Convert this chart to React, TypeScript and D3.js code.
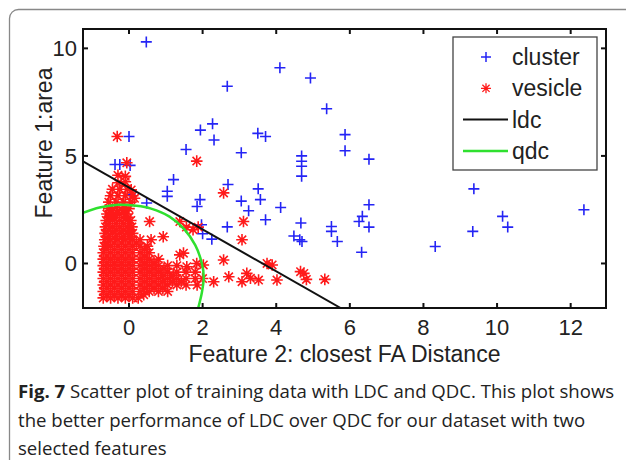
import React from 'react';
import * as d3 from 'd3';

// Feature 2 (closest FA distance) vs Feature 1 (area)
const clusterPoints: [number, number][] = [
  [0.47, 10.3], [2.67, 8.24], [4.1, 9.1], [4.93, 8.62], [5.37, 7.19],
  [0.0, 5.9], [1.94, 6.2], [2.27, 6.49], [2.31, 5.74], [3.5, 6.05], [3.71, 5.9],
  [5.87, 5.99], [5.87, 5.24], [6.52, 4.85], [1.55, 5.3], [3.05, 5.15],
  [4.69, 5.0], [4.69, 4.75], [4.69, 4.52], [4.69, 4.06],
  [-0.38, 4.6], [-0.25, 4.6], [0.03, 4.56], [1.21, 3.9], [2.69, 3.67], [3.51, 3.47],
  [1.04, 3.36], [1.04, 3.12], [3.57, 2.97], [3.05, 2.9], [3.25, 2.45], [4.12, 2.6],
  [1.93, 2.97], [1.85, 2.65], [3.71, 2.03], [2.67, 1.7], [4.67, 1.88], [4.48, 1.28],
  [4.64, 1.1], [1.97, 1.8], [2.0, 1.38], [2.25, 1.13],
  [9.37, 3.47], [12.36, 2.5], [10.15, 2.19], [10.29, 1.69], [9.34, 1.49], [8.32, 0.79],
  [6.52, 2.73], [6.34, 2.19], [6.25, 1.95], [6.52, 1.69], [5.5, 1.72], [5.5, 1.49],
  [5.66, 1.02], [6.32, 0.52], [4.7, 1.02], [0.03, 3.2], [0.48, 2.81],
];

const vesiclePoints: [number, number][] = [
  // dense core
  [-0.7, -1.6], [-0.5, -1.6], [-0.3, -1.6], [-0.1, -1.6], [0.1, -1.6],
  [-0.7, -1.3], [-0.5, -1.3], [-0.3, -1.3], [-0.1, -1.3], [0.1, -1.3],
  [-0.7, -1.0], [-0.5, -1.0], [-0.3, -1.0], [-0.1, -1.0], [0.1, -1.0],
  [-0.7, -0.7], [-0.5, -0.7], [-0.3, -0.7], [-0.1, -0.7], [0.1, -0.7],
  [-0.7, -0.4], [-0.5, -0.4], [-0.3, -0.4], [-0.1, -0.4], [0.1, -0.4],
  [-0.7, -0.1], [-0.5, -0.1], [-0.3, -0.1], [-0.1, -0.1], [0.1, -0.1],
  [-0.7, 0.2], [-0.5, 0.2], [-0.3, 0.2], [-0.1, 0.2], [0.1, 0.2],
  [-0.7, 0.5], [-0.5, 0.5], [-0.3, 0.5], [-0.1, 0.5], [0.1, 0.5],
  [-0.68, 0.8], [-0.5, 0.8], [-0.3, 0.8], [-0.1, 0.8], [0.1, 0.8],
  [-0.66, 1.1], [-0.5, 1.1], [-0.3, 1.1], [-0.1, 1.1], [0.1, 1.1],
  [-0.65, 1.4], [-0.45, 1.4], [-0.25, 1.4], [-0.05, 1.4], [0.1, 1.4],
  [-0.64, 1.7], [-0.45, 1.7], [-0.25, 1.7], [-0.05, 1.7], [0.08, 1.7],
  [-0.62, 2.0], [-0.45, 2.0], [-0.25, 2.0], [-0.05, 2.0], [0.05, 2.0],
  [-0.6, 2.3], [-0.42, 2.3], [-0.25, 2.3], [-0.08, 2.3],
  [-0.55, 2.55], [-0.35, 2.6], [-0.15, 2.6], [0.0, 2.55],
  // dense core, in-between rows
  [-0.6, -1.45], [-0.4, -1.45], [-0.2, -1.45], [0.0, -1.45],
  [-0.6, -1.15], [-0.4, -1.15], [-0.2, -1.15], [0.0, -1.15],
  [-0.6, -0.85], [-0.4, -0.85], [-0.2, -0.85], [0.0, -0.85],
  [-0.6, -0.55], [-0.4, -0.55], [-0.2, -0.55], [0.0, -0.55],
  [-0.6, -0.25], [-0.4, -0.25], [-0.2, -0.25], [0.0, -0.25],
  [-0.6, 0.05], [-0.4, 0.05], [-0.2, 0.05], [0.0, 0.05],
  [-0.6, 0.35], [-0.4, 0.35], [-0.2, 0.35], [0.0, 0.35],
  [-0.6, 0.65], [-0.4, 0.65], [-0.2, 0.65], [0.0, 0.65],
  [-0.58, 0.95], [-0.4, 0.95], [-0.2, 0.95], [0.0, 0.95],
  [-0.56, 1.25], [-0.36, 1.25], [-0.16, 1.25], [0.02, 1.25],
  [-0.55, 1.55], [-0.35, 1.55], [-0.15, 1.55], [0.02, 1.55],
  [-0.54, 1.85], [-0.35, 1.85], [-0.15, 1.85], [0.0, 1.85],
  [-0.52, 2.15], [-0.34, 2.15], [-0.16, 2.15], [0.0, 2.15],
  [-0.5, 2.45], [-0.3, 2.45], [-0.1, 2.45],
  // upper blob
  [-0.55, 2.85], [-0.35, 2.85], [-0.15, 2.85], [0.05, 2.85],
  [-0.5, 3.15], [-0.3, 3.15], [-0.1, 3.15], [0.1, 3.15],
  [-0.45, 3.45], [-0.25, 3.45], [-0.05, 3.45],
  [-0.3, 3.75], [-0.1, 3.8], [-0.3, 4.1], [-0.1, 4.05],
  [-0.06, 4.68], [-0.32, 5.9], [0.15, 3.03], [0.06, 3.42],
  // triangle spreading right
  [0.3, 1.1], [0.3, 0.8], [0.5, 0.8], [0.3, 0.5], [0.55, 0.5],
  [0.3, 0.2], [0.55, 0.2], [0.8, 0.2],
  [0.3, -0.1], [0.55, -0.1], [0.8, -0.1], [1.05, -0.1], [1.3, -0.1],
  [0.3, -0.4], [0.55, -0.4], [0.8, -0.4], [1.05, -0.4], [1.3, -0.4], [1.55, -0.4], [1.8, -0.4],
  [0.3, -0.7], [0.55, -0.7], [0.8, -0.7], [1.05, -0.7], [1.3, -0.7], [1.55, -0.7], [1.8, -0.7], [2.0, -0.7],
  [0.3, -1.0], [0.55, -1.0], [0.8, -1.0], [1.05, -1.0], [1.3, -1.0], [1.55, -1.0], [1.85, -1.0],
  [0.3, -1.3], [0.55, -1.3], [0.8, -1.3], [1.05, -1.3], [0.25, -1.6],
  [0.2, 0.95], [0.42, 0.65], [0.42, 0.35], [0.68, 0.05], [0.42, 0.05], [0.95, -0.25],
  [0.68, -0.25], [0.42, -0.25], [1.2, -0.55], [0.95, -0.55], [0.68, -0.55], [0.42, -0.55],
  [1.42, -0.85], [1.18, -0.85], [0.92, -0.85], [0.68, -0.85], [0.42, -0.85],
  [0.92, -1.15], [0.68, -1.15], [0.42, -1.15], [0.4, -1.45],
  // scattered
  [0.56, 1.95], [0.93, 1.24], [0.6, 1.1], [1.38, 0.4], [1.48, 0.48], [1.84, 0.0], [1.57, -0.15],
  [1.38, 1.95], [1.56, 1.69], [1.74, 1.57], [1.88, 1.69], [1.84, 4.76],
  [2.02, -0.07], [2.57, 0.16], [2.71, -0.62], [2.3, -0.85], [3.2, -0.46], [3.3, -0.69],
  [3.07, -0.85], [3.52, -0.77], [3.75, 0.0], [3.89, -0.07], [4.02, -0.77], [4.66, -0.38],
  [4.75, -0.46], [4.82, -0.74], [5.32, -0.74], [2.57, 3.28], [3.11, 1.95], [3.07, 1.1],
];

// decision boundaries
const ldcX = [-1.25, 5.75];
const ldcY = [4.75, -2.07];
const qdcX = [-1.25, -0.8, -0.3, 0.2, 0.6, 1.1, 1.5, 1.8, 1.98, 2.03, 1.98, 1.88];
const qdcY = [2.35, 2.6, 2.73, 2.68, 2.55, 2.18, 1.6, 0.85, 0.0, -0.65, -1.35, -2.07];

const xTicks = [0, 2, 4, 6, 8, 10, 12];
const yTicks = [0, 5, 10];
const legendItems = ['cluster', 'vesicle', 'ldc', 'qdc'];

const captionLines = [
  'Scatter plot of training data with LDC and QDC. This plot shows',
  'the better performance of LDC over QDC for our dataset with two',
  'selected features',
];

const BLUE = '#2424f5';
const RED = '#ff1a1a';
const GREEN = '#2fe02f';

const plus = (x: number, y: number, r = 5.5) => `M${x - r},${y}H${x + r}M${x},${y - r}V${y + r}`;
const star = (x: number, y: number, r = 5.8) => {
  const d = r * 0.72;
  return `M${x - r},${y}H${x + r}M${x},${y - r}V${y + r}M${x - d},${y - d}L${x + d},${y + d}M${x - d},${y + d}L${x + d},${y - d}`;
};

export default function App() {
  const left = 83, right = 606, top = 29, bottom = 308;
  const x = d3.scaleLinear().domain([-1.25, 12.96]).range([left, right]);
  const y = d3.scaleLinear().domain([-2.07, 10.9]).range([bottom, top]);

  const ldc = d3.line<number>().x(i => x(ldcX[i])).y(i => y(ldcY[i]));
  const qdc = d3.line<number>().x(i => x(qdcX[i])).y(i => y(qdcY[i])).curve(d3.curveCatmullRom);

  const axisFont = "'Liberation Sans', Arial, sans-serif";
  const capFont = "'Open Sans', 'Noto Sans', sans-serif";
  const tick = 5;

  return (
    <svg width={626} height={460} style={{ position: 'absolute', left: 0, top: 0, background: '#fff' }}>
      <rect x={9.5} y={9.5} width={660} height={500} rx={9} fill="#fff" stroke="#888" strokeWidth={1.3} />
      <defs>
        <clipPath id="plot">
          <rect x={left} y={top} width={right - left} height={bottom - top} />
        </clipPath>
      </defs>

      <g clipPath="url(#plot)">
        <path d={clusterPoints.map(p => plus(x(p[0]), y(p[1]))).join('')} stroke={BLUE} strokeWidth={1.6} fill="none" />
        <path d={vesiclePoints.map(p => star(x(p[0]), y(p[1]))).join('')} stroke={RED} strokeWidth={1.6} fill="none" />
        <path d={ldc(d3.range(ldcX.length)) ?? ''} stroke="#111" strokeWidth={2} fill="none" />
        <path d={qdc(d3.range(qdcX.length)) ?? ''} stroke={GREEN} strokeWidth={2.5} fill="none" />
      </g>

      {/* axes box with inward ticks */}
      <rect x={left} y={top} width={right - left} height={bottom - top} fill="none" stroke="#111" strokeWidth={2} />
      {xTicks.map(t => (
        <g key={'x' + t}>
          <line x1={x(t)} x2={x(t)} y1={bottom} y2={bottom - tick} stroke="#111" strokeWidth={2} />
          <line x1={x(t)} x2={x(t)} y1={top} y2={top + tick} stroke="#111" strokeWidth={2} />
          <text x={x(t)} y={335} textAnchor="middle" fontFamily={axisFont} fontSize={22} fill="#222">{t}</text>
        </g>
      ))}
      {yTicks.map(t => (
        <g key={'y' + t}>
          <line x1={left} x2={left + tick} y1={y(t)} y2={y(t)} stroke="#111" strokeWidth={2} />
          <line x1={right} x2={right - tick} y1={y(t)} y2={y(t)} stroke="#111" strokeWidth={2} />
          <text x={77} y={y(t)} dy="0.36em" textAnchor="end" fontFamily={axisFont} fontSize={22} fill="#222">{t}</text>
        </g>
      ))}

      <text x={(left + right) / 2} y={362} textAnchor="middle" fontFamily={axisFont} fontSize={23} fill="#222">
        Feature 2: closest FA Distance
      </text>
      <text transform="translate(52,143) rotate(-90)" textAnchor="middle" fontFamily={axisFont} fontSize={23} fill="#222">
        Feature 1:area
      </text>

      {/* legend */}
      <g>
        <rect x={453} y={37} width={144} height={133} fill="#fff" stroke="#444" strokeWidth={1.3} />
        {legendItems.map((name, i) => {
          const ly = 57 + i * 31.3;
          return (
            <g key={name}>
              {i === 0 && <path d={plus(486, ly, 5)} stroke={BLUE} strokeWidth={1.5} />}
              {i === 1 && <path d={star(486, ly, 5)} stroke={RED} strokeWidth={1.3} />}
              {i === 2 && <line x1={463} x2={508} y1={ly} y2={ly} stroke="#111" strokeWidth={2} />}
              {i === 3 && <line x1={463} x2={508} y1={ly} y2={ly} stroke={GREEN} strokeWidth={2.5} />}
              <text x={512} y={ly} dy="0.35em" fontFamily={axisFont} fontSize={23} fill="#222">{name}</text>
            </g>
          );
        })}
      </g>

      {/* caption */}
      {captionLines.map((line, i) => (
        <text key={i} x={18} y={398 + i * 28.5} fontFamily={capFont} fontSize={18.6} fill="#222">
          {i === 0 && <tspan fontWeight="bold">Fig. 7 </tspan>}
          {line}
        </text>
      ))}
    </svg>
  );
}
